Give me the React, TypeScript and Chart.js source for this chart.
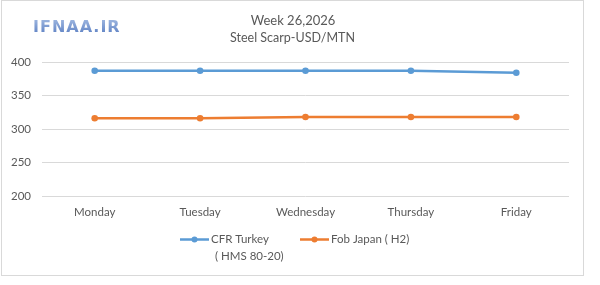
import React, { useEffect, useRef } from "react";
import { Chart, registerables } from "chart.js";

Chart.register(...registerables);

const days = ["Monday", "Tuesday", "Wednesday", "Thursday", "Friday"];
const cfrTurkey = [387, 387, 387, 387, 384];
const fobJapan = [316, 316, 318, 318, 318];
const cfrTurkeyLegend = ["CFR Turkey", "( HMS 80-20)"];
const fobJapanLegend = ["Fob Japan ( H2)"];
const yTicks = [200, 250, 300, 350, 400];
const titleText = "Week 26,2026";
const subtitleText = "Steel Scarp-USD/MTN";
const logoText = "IFNAA.IR";

const BLUE = "#5b9bd5";
const ORANGE = "#ed7d31";
const TEXT = "#595959";
const FONT = "Lato";

const decorPlugin = {
  id: "decor",
  beforeDraw(chart: any) {
    const ctx = chart.ctx;
    ctx.save();
    ctx.fillStyle = "#ffffff";
    ctx.fillRect(0, 0, chart.width, chart.height);
    ctx.restore();
  },
  afterDraw(chart: any) {
    const ctx = chart.ctx;
    ctx.save();
    // frame
    ctx.strokeStyle = "#d9d9d9";
    ctx.lineWidth = 1;
    ctx.strokeRect(1.5, 0.5, 582, 275);

    // logo
    ctx.font = `bold 16px "DejaVu Sans"`;
    (ctx as any).letterSpacing = "1px";
    ctx.textAlign = "left";
    ctx.textBaseline = "middle";
    const g = ctx.createLinearGradient(0, 20, 0, 34);
    g.addColorStop(0, "#9ab3de");
    g.addColorStop(1, "#5f82c4");
    ctx.fillStyle = g;
    ctx.fillText(logoText, 33, 27.5);
    (ctx as any).letterSpacing = "0px";

    // title / subtitle
    ctx.textAlign = "center";
    ctx.fillStyle = TEXT;
    ctx.font = `13px ${FONT}`;
    ctx.fillText(titleText, 293, 21);
    ctx.font = `12.5px ${FONT}`;
    ctx.fillText(subtitleText, 292.5, 37.5);

    // legend
    const ds = chart.data.datasets;
    const items = [
      { x: 180, lines: cfrTurkeyLegend, color: ds[0].borderColor },
      { x: 300, lines: fobJapanLegend, color: ds[1].borderColor },
    ];
    const ly = 239.5;
    ctx.font = `11.5px ${FONT}`;
    ctx.textAlign = "left";
    items.forEach((it) => {
      ctx.strokeStyle = it.color;
      ctx.lineWidth = 2.5;
      ctx.beginPath();
      ctx.moveTo(it.x, ly);
      ctx.lineTo(it.x + 29, ly);
      ctx.stroke();
      ctx.fillStyle = it.color;
      ctx.beginPath();
      ctx.arc(it.x + 14.5, ly, 3, 0, Math.PI * 2);
      ctx.fill();
      ctx.fillStyle = TEXT;
      it.lines.forEach((t, i) => {
        ctx.fillText(t, it.x + 31 + (i > 0 ? 4 : 0), ly + i * 17);
      });
    });
    ctx.restore();
  },
};

export default function App() {
  const ref = useRef<HTMLCanvasElement | null>(null);

  useEffect(() => {
    if (!ref.current) return;
    const chart = new Chart(ref.current, {
      type: "line",
      data: {
        labels: days,
        datasets: [
          {
            label: cfrTurkeyLegend.join(" "),
            data: cfrTurkey,
            borderColor: BLUE,
            backgroundColor: BLUE,
            borderWidth: 2.5,
            pointRadius: 3.3,
            pointBorderWidth: 0,
            pointBackgroundColor: BLUE,
            tension: 0,
          },
          {
            label: fobJapanLegend.join(" "),
            data: fobJapan,
            borderColor: ORANGE,
            backgroundColor: ORANGE,
            borderWidth: 2.5,
            pointRadius: 3.3,
            pointBorderWidth: 0,
            pointBackgroundColor: ORANGE,
            tension: 0,
          },
        ],
      },
      options: {
        animation: false,
        responsive: false,
        devicePixelRatio: 1,
        layout: { padding: { top: 62, right: 31, bottom: 59, left: 0 } },
        plugins: {
          legend: { display: false },
          title: { display: false },
          tooltip: { enabled: false },
        },
        scales: {
          x: {
            offset: true,
            grid: { display: false, drawTicks: false },
            border: { display: false },
            ticks: {
              color: TEXT,
              font: { family: FONT, size: 11.5 },
              padding: 9,
              maxRotation: 0,
            },
            afterFit: (s: any) => {
              s.height = 30;
            },
          },
          y: {
            min: 200,
            max: 400,
            grid: { color: "#d9d9d9", lineWidth: 1, drawTicks: false },
            border: { display: false },
            ticks: {
              color: TEXT,
              font: { family: FONT, size: 11.5 },
              padding: 11,
              stepSize: 50,
            },
            afterBuildTicks: (s: any) => {
              s.ticks = yTicks.map((v) => ({ value: v }));
            },
            afterFit: (s: any) => {
              s.width = 42;
            },
          },
        },
      },
      plugins: [decorPlugin],
    });
    return () => chart.destroy();
  }, []);

  return (
    <div style={{ position: "absolute", left: 0, top: 0, width: 600, height: 285, background: "#fff" }}>
      <canvas ref={ref} width={600} height={285} style={{ width: 600, height: 285, display: "block" }} />
    </div>
  );
}
